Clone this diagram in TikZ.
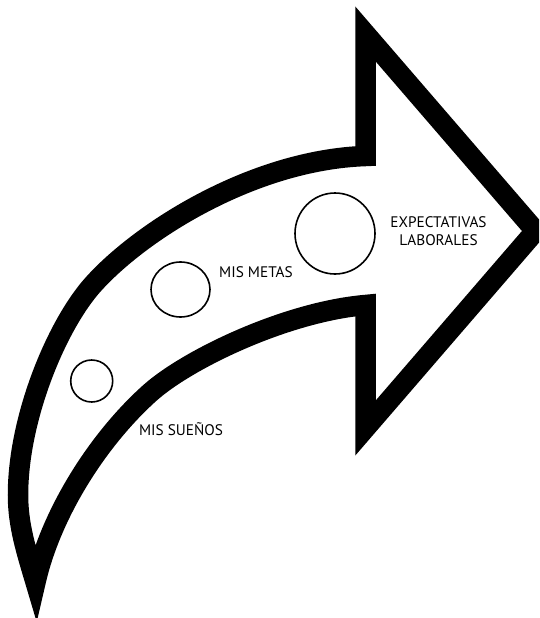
\documentclass[tikz,border=0pt]{standalone}
\usepackage{fontspec}
\setmainfont{PT Sans}
\usetikzlibrary{shapes.geometric}
\begin{document}
\begin{tikzpicture}[x=1pt,y=-1pt,
  band/.style={draw=black, line width=20.5pt, miter limit=12, line join=miter},
  ring/.style={draw=black, line width=1.6pt, ellipse, inner sep=0pt},
  lbl/.style={font=\fontsize{15.3}{18.5}\selectfont, text=black, align=center, inner sep=0pt}]
\useasboundingbox (0,0) rectangle (539,618);
\clip (0,0) rectangle (539,618);
\coordinate (s0) at (365.5,100);
\coordinate (hTop) at (365.5,34);
\coordinate (hTip) at (535.5,231);
\coordinate (hBot) at (365.5,428);
\coordinate (shB) at (365.5,305);
\coordinate (shT) at (365.5,156);
\coordinate (tail) at (35.5,582);
\draw[band] (s0) -- (hTop) -- (hTip) -- (hBot) -- (shB)
  .. controls (285.5,312) and (187.3,359.5) .. (150,392.8)
  .. controls (97.8,439.5) and (50.9,513.7) .. (tail)
  .. controls (26,550) and (18,525) .. (18,495)
  .. controls (18,420) and (54.5,330.75) .. (89.7,288.4)
  .. controls (135,235) and (250,160) .. (shT) -- cycle;
\node[ring, minimum width=42pt, minimum height=42pt] (c1) at (91.7,381) {};
\node[ring, minimum width=59pt, minimum height=55pt] (c2) at (180.5,289.5) {};
\node[ring, minimum width=80pt, minimum height=81pt] (c3) at (335,233.5) {};
\node[lbl] (t1) at (181,429) {MIS SUEÑOS};
\node[lbl] (t2) at (256,272.5) {MIS METAS};
\node[lbl] (t3) at (438.5,231) {EXPECTATIVAS\\LABORALES};
\end{tikzpicture}
\end{document}
